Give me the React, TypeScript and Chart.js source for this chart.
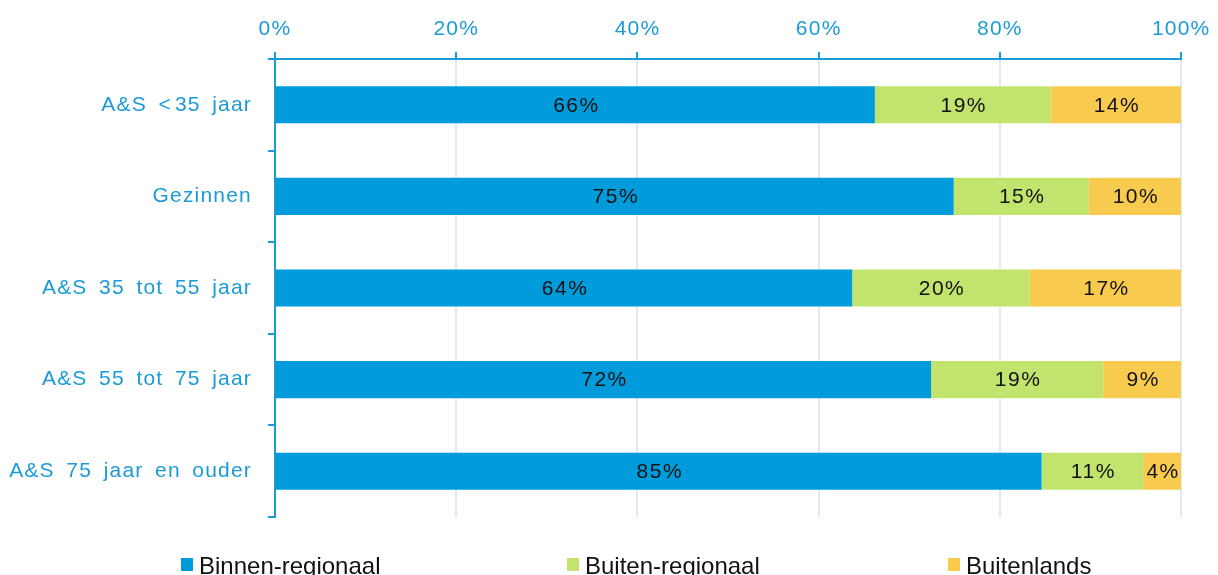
import React, { useEffect, useRef } from "react";
import { Chart, registerables } from "chart.js";

Chart.register(...registerables);

const categories = [
  "A&S <\u200a35 jaar",
  "Gezinnen",
  "A&S 35 tot 55 jaar",
  "A&S 55 tot 75 jaar",
  "A&S 75 jaar en ouder",
];
const binnenRegionaal = [66.2, 74.9, 63.7, 72.4, 84.6];
const buitenRegionaal = [19.4, 14.9, 19.6, 19.0, 11.2];
const buitenlands = [14.4, 10.2, 16.7, 8.6, 4.2];
const seriesNames = ["Binnen-regionaal", "Buiten-regionaal", "Buitenlands"];
const xTicks = [0, 20, 40, 60, 80, 100];

const BLUE = "#009bdb";
const GREEN = "#c2e36d";
const YELLOW = "#f8cb4f";
const AXIS = "#1a9bd7";
const GRID = "#dfeaf6";
const FONT = "'Liberation Sans', Arial, sans-serif";

const LEGEND_X = [181, 567, 948];

const barLabels = {
  id: "barLabels",
  afterDatasetsDraw(chart: any) {
    const ctx = chart.ctx;
    ctx.save();
    (ctx as any).letterSpacing = "1.5px";
    ctx.font = `21px ${FONT}`;
    ctx.fillStyle = "#111111";
    ctx.textAlign = "center";
    ctx.textBaseline = "middle";
    chart.data.datasets.forEach((ds: any, di: number) => {
      const meta = chart.getDatasetMeta(di);
      meta.data.forEach((el: any, i: number) => {
        const v = ds.data[i];
        const cx = (el.x + el.base) / 2;
        ctx.fillText(Math.round(v) + "%", cx + 1, el.y + 1);
      });
    });
    ctx.restore();
  },
};

const customLegend = {
  id: "customLegend",
  afterDraw(chart: any) {
    const ctx = chart.ctx;
    const y = 564;
    chart.data.datasets.forEach((ds: any, i: number) => {
      const x = LEGEND_X[i];
      ctx.save();
      (ctx as any).letterSpacing = "0px";
      (ctx as any).wordSpacing = "0px";
      ctx.fillStyle = ds.backgroundColor;
      ctx.fillRect(x, y - 6, 12, 13);
      ctx.translate(x + 18, y + 3);
      ctx.fillStyle = "#111111";
      ctx.font = `24px ${FONT}`;
      ctx.textAlign = "left";
      ctx.textBaseline = "middle";
      ctx.fillText(ds.label, 0, 0);
      ctx.restore();
    });
  },
};

const spacing = {
  id: "spacing",
  beforeDraw(chart: any) {
    (chart.ctx as any).letterSpacing = "1.2px";
    (chart.ctx as any).wordSpacing = "4.5px";
  },
};

export default function App() {
  const ref = useRef<HTMLCanvasElement | null>(null);
  useEffect(() => {
    if (!ref.current) return;
    const chart = new Chart(ref.current, {
      type: "bar",
      data: {
        labels: categories,
        datasets: [
          { label: seriesNames[0], data: binnenRegionaal, backgroundColor: BLUE },
          { label: seriesNames[1], data: buitenRegionaal, backgroundColor: GREEN },
          { label: seriesNames[2], data: buitenlands, backgroundColor: YELLOW },
        ],
      },
      options: {
        indexAxis: "y",
        animation: false,
        responsive: false,
        maintainAspectRatio: false,
        layout: { padding: { left: 0, right: 36, top: 0, bottom: 58 } },
        datasets: {
          bar: { barPercentage: 0.405, categoryPercentage: 1, borderWidth: 0 },
        },
        plugins: {
          legend: { display: false },
          tooltip: { enabled: false },
        },
        scales: {
          x: {
            type: "linear",
            position: "top",
            stacked: true,
            min: 0,
            max: 100,
            afterBuildTicks(scale: any) {
              scale.ticks = xTicks.map((v) => ({ value: v }));
            },
            afterFit(scale: any) {
              scale.height = 59;
            },
            ticks: {
              color: AXIS,
              font: { family: FONT, size: 21 },
              padding: 10,
              callback: (v: any) => v + "%",
            },
            grid: {
              color: GRID,
              lineWidth: 2,
              tickColor: AXIS,
              tickLength: 7,
              drawOnChartArea: true,
            },
            border: { color: AXIS, width: 2 },
          },
          y: {
            type: "category",
            stacked: true,
            afterFit(scale: any) {
              scale.width = 275;
            },
            ticks: {
              color: AXIS,
              font: { family: FONT, size: 21 },
              padding: 16,
            },
            grid: {
              offset: true,
              drawOnChartArea: false,
              color: AXIS,
              tickColor: AXIS,
              tickLength: 7,
              lineWidth: 2,
            },
            border: { color: AXIS, width: 2 },
          },
        },
      },
      plugins: [spacing, barLabels, customLegend],
    });
    return () => chart.destroy();
  }, []);
  return (
    <div style={{ position: "fixed", left: 0, top: 0, width: 1218, height: 575, background: "#fff" }}>
      <canvas ref={ref} width={1218} height={575} style={{ width: 1218, height: 575 }} />
    </div>
  );
}
